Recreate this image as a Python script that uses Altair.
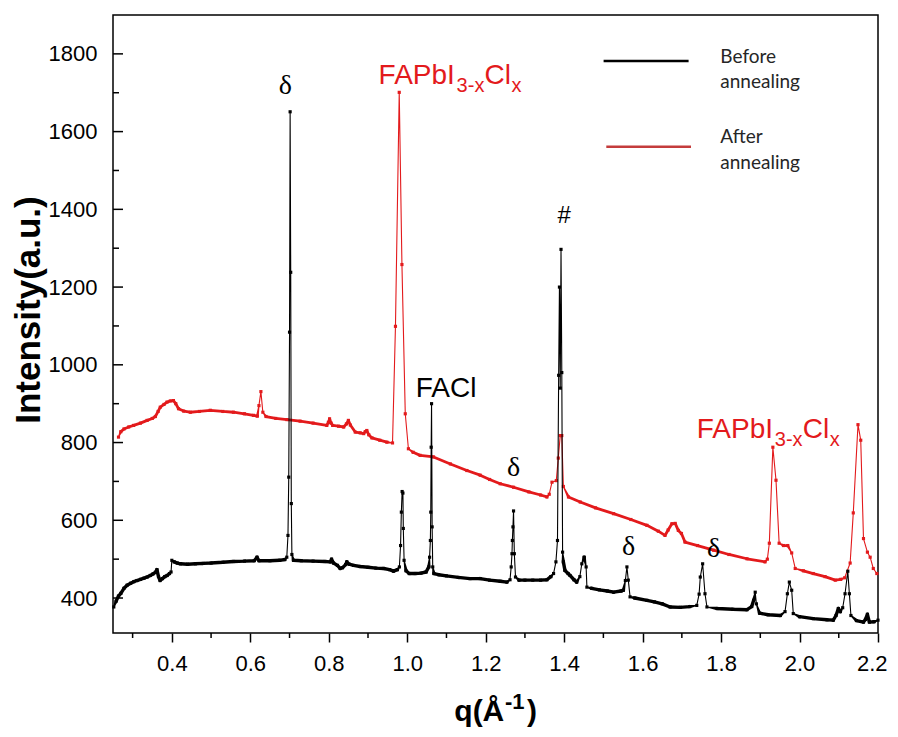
import altair as alt
import pandas as pd

# ---------------- data ----------------
q_before = [0.252, 0.258, 0.264, 0.270, 0.278, 0.286, 0.295, 0.303, 0.311, 0.320,
            0.329, 0.337, 0.345, 0.352, 0.358, 0.362, 0.366, 0.370, 0.376, 0.382,
            0.388, 0.394, 0.398, 0.400, 0.406, 0.414, 0.422, 0.440, 0.460, 0.480,
            0.500, 0.530, 0.557, 0.585, 0.610, 0.617, 0.622, 0.650, 0.675, 0.688,
            0.693, 0.696, 0.698, 0.700, 0.7015, 0.703, 0.7045, 0.706, 0.710, 0.730,
            0.760, 0.790, 0.804, 0.807, 0.812, 0.822, 0.829, 0.835, 0.843, 0.846,
            0.852, 0.863, 0.880, 0.900, 0.920, 0.940, 0.955, 0.965, 0.975, 0.980,
            0.983, 0.985, 0.987, 0.989, 0.990, 0.992, 0.997, 1.005, 1.020, 1.035,
            1.048, 1.055, 1.057, 1.059, 1.060, 1.061, 1.062, 1.0635, 1.065, 1.068,
            1.080, 1.100, 1.130, 1.160, 1.186, 1.210, 1.237, 1.254, 1.262, 1.265,
            1.267, 1.268, 1.2695, 1.271, 1.273, 1.276, 1.285, 1.300, 1.320, 1.340,
            1.356, 1.366, 1.373, 1.379, 1.383, 1.386, 1.388, 1.390, 1.392, 1.394,
            1.396, 1.398, 1.402, 1.410, 1.415, 1.425, 1.432, 1.440, 1.445, 1.451,
            1.456, 1.458, 1.470, 1.490, 1.510, 1.526, 1.545, 1.551, 1.556, 1.560,
            1.5635, 1.568, 1.580, 1.611, 1.630, 1.650, 1.670, 1.696, 1.720, 1.738,
            1.744, 1.747, 1.753, 1.759, 1.764, 1.790, 1.830, 1.866, 1.878, 1.883,
            1.887, 1.890, 1.898, 1.920, 1.951, 1.963, 1.969, 1.974, 1.980, 1.984,
            2.000, 2.035, 2.070, 2.086, 2.093, 2.099, 2.104, 2.110, 2.116, 2.123,
            2.127, 2.131, 2.145, 2.163, 2.168, 2.173, 2.178, 2.190, 2.200]
i_before = [377, 392, 405, 412, 425, 433, 438, 442, 445, 448,
            451, 454, 458, 462, 466, 473, 455, 445, 450, 455,
            458, 463, 467, 497, 493, 490, 488, 487, 488, 489,
            490, 492, 494, 495, 496, 505, 496, 496, 497, 499,
            505, 561, 711, 1084, 1651, 1238, 643, 512, 497, 496,
            495, 494, 493, 500, 490, 484, 476, 478, 486, 493,
            487, 484, 481, 479, 477, 476, 473, 469, 473, 480,
            535, 621, 674, 670, 579, 497, 470, 463, 463, 464,
            467, 480, 505, 548, 621, 788, 900, 583, 480, 463,
            460, 457, 453, 450, 450, 446, 443, 441, 447, 480,
            514, 548, 583, 624, 514, 454, 446, 446, 446, 446,
            447, 455, 463, 493, 548, 973, 1200, 940, 1297, 980,
            518, 493, 471, 463, 458, 447, 441, 455, 488, 505,
            480, 428, 425, 421, 418, 415, 418, 420, 445, 480,
            446, 403, 400, 394, 390, 385, 377, 376, 378, 381,
            410, 454, 488, 411, 377, 373, 371, 370, 378, 394,
            415, 385, 361, 357, 355, 365, 411, 441, 420, 360,
            352, 347, 344, 343, 355, 373, 365, 375, 411, 469,
            411, 355, 342, 338, 345, 358, 338, 339, 343]

q_after = [0.264, 0.270, 0.278, 0.290, 0.3025, 0.320, 0.337, 0.350, 0.358, 0.365,
           0.3705, 0.380, 0.3876, 0.396, 0.404, 0.410, 0.417, 0.430, 0.447, 0.470,
           0.498, 0.530, 0.557, 0.585, 0.608, 0.618, 0.622, 0.627, 0.632, 0.640,
           0.665, 0.6934, 0.727, 0.760, 0.795, 0.799, 0.802, 0.806, 0.810, 0.825,
           0.838, 0.845, 0.850, 0.855, 0.8675, 0.880, 0.889, 0.893, 0.897, 0.902,
           0.910, 0.930, 0.948, 0.9625, 0.970, 0.9796, 0.9865, 0.995, 1.003, 1.015,
           1.033, 1.067, 1.110, 1.152, 1.186, 1.210, 1.237, 1.271, 1.310, 1.340,
           1.356, 1.362, 1.369, 1.380, 1.385, 1.390, 1.394, 1.398, 1.411, 1.441,
           1.480, 1.526, 1.570, 1.611, 1.640, 1.657, 1.665, 1.6746, 1.683, 1.691,
           1.699, 1.708, 1.740, 1.781, 1.820, 1.866, 1.912, 1.918, 1.923, 1.932,
           1.940, 1.948, 1.959, 1.970, 1.980, 1.989, 2.010, 2.035, 2.065, 2.091,
           2.105, 2.115, 2.129, 2.137, 2.149, 2.156, 2.163, 2.173, 2.180, 2.188,
           2.197]
i_after = [814, 828, 835, 840, 844, 850, 857, 862, 867, 880,
           891, 898, 904, 907, 908, 900, 887, 881, 878, 880,
           883, 880, 878, 874, 870, 868, 895, 931, 878, 867,
           862, 859, 855, 850, 844, 852, 861, 850, 844, 842,
           840, 848, 857, 845, 827, 825, 823, 828, 831, 820,
           812, 806, 801, 799, 1099, 1701, 1258, 874, 784, 775,
           767, 763, 745, 728, 716, 705, 694, 685, 673, 665,
           660, 667, 698, 702, 760, 818, 818, 687, 660, 647,
           632, 617, 602, 587, 572, 561, 575, 591, 592, 574,
           566, 544, 535, 523, 512, 501, 493, 500, 541, 788,
           703, 541, 535, 535, 516, 476, 470, 463, 455, 446,
           448, 452, 490, 619, 846, 806, 553, 518, 505, 476,
           463]

x_ticks = [0.4, 0.6, 0.8, 1.0, 1.2, 1.4, 1.6, 1.8, 2.0, 2.2]
x_minor = [0.3, 0.5, 0.7, 0.9, 1.1, 1.3, 1.5, 1.7, 1.9, 2.1]
y_ticks = [400, 600, 800, 1000, 1200, 1400, 1600, 1800]
y_minor = [500, 700, 900, 1100, 1300, 1500, 1700]

legend_labels = [["Before", "annealing"], ["After", "annealing"]]

# annotations anchored at text baseline (q, intensity)
delta_q = [0.689, 1.271, 1.564, 1.781]
delta_i = [1697, 715, 510, 505]
facl_q, facl_i = 1.099, 917
hash_q, hash_i = 1.400, 1365
fap_q = [0.927, 1.738]
fap_i = [1723, 812]

# ---------------- chart ----------------
W, H = 765, 618
RED = "#e31a1c"
FONT = "Liberation Sans"
xs = alt.Scale(domain=[0.25, 2.2], nice=False, zero=False)
ys = alt.Scale(domain=[310, 1900], nice=False, zero=False)

x_axis = alt.Axis(values=x_ticks, format=".1f", labelFontSize=22, labelFont=FONT,
                  labelColor="black", tickSize=9, tickWidth=1.5, tickColor="black",
                  domain=False, grid=False, labelPadding=11, labelFlush=True,
                  labelFlushOffset=9, labelOverlap=False, title=None)
y_axis = alt.Axis(values=y_ticks, format="d", labelFontSize=22, labelFont=FONT,
                  labelColor="black", ticks=False, domain=False, grid=False,
                  labelPadding=16, labelFlush=False, labelOverlap=False, title=None)


def X(field):
    return alt.X(field, scale=xs, axis=x_axis)


def Y(field):
    return alt.Y(field, scale=ys, axis=y_axis)


df_b = pd.DataFrame({"q": q_before, "I": i_before})
df_a = pd.DataFrame({"q": q_after, "I": i_after})


def series(df, color, thick):
    base = alt.Chart(df).encode(x=X("q:Q"), y=Y("I:Q"))
    # dense baseline looks heavy, steep peak flanks are thin (as in the original plot)
    trail = base.transform_window(
        prevI="lag(I)", nextI="lead(I)", sort=[alt.SortField("q")]
    ).transform_calculate(
        w=f"(abs(datum.I - datum.prevI) > 28 || abs(datum.nextI - datum.I) > 28) ? 1.1 : {thick}"
    ).mark_trail(color=color).encode(size=alt.Size("w:Q", scale=None, legend=None))
    pts = base.mark_point(shape="square", filled=True, size=10, color=color, opacity=1)
    return [trail, pts]


layers = []
layers += series(df_a, RED, 2.8)
layers += series(df_b, "black", 3.4)

# inward y ticks
layers.append(alt.Chart(pd.DataFrame({"I": y_ticks})).mark_rule(
    color="black", strokeWidth=1.5).encode(y=Y("I:Q"), x=alt.value(0), x2=alt.value(10)))
layers.append(alt.Chart(pd.DataFrame({"I": y_minor})).mark_rule(
    color="black", strokeWidth=1.5).encode(y=Y("I:Q"), x=alt.value(0), x2=alt.value(6)))
# minor x ticks (outward)
layers.append(alt.Chart(pd.DataFrame({"q": x_minor})).mark_rule(
    color="black", strokeWidth=1.5).encode(x=X("q:Q"), y=alt.value(H), y2=alt.value(H + 5)))

# delta labels
layers.append(alt.Chart(pd.DataFrame({"q": delta_q, "I": delta_i, "t": ["δ"] * 4})).mark_text(
    font="Liberation Serif", fontSize=28, color="black", align="center", baseline="alphabetic").encode(
    x=X("q:Q"), y=Y("I:Q"), text="t:N"))
# FACl
layers.append(alt.Chart(pd.DataFrame({"q": [facl_q], "I": [facl_i], "t": ["FACl"]})).mark_text(
    font=FONT, fontSize=28, color="black", align="center", baseline="alphabetic").encode(
    x=X("q:Q"), y=Y("I:Q"), text="t:N"))
# hash
layers.append(alt.Chart(pd.DataFrame({"q": [hash_q], "I": [hash_i], "t": ["#"]})).mark_text(
    font=FONT, fontSize=24, color="black", align="center", baseline="alphabetic").encode(
    x=X("q:Q"), y=Y("I:Q"), text="t:N"))

# FAPbI3-xClx labels (main text + subscripts)
fap_df = pd.DataFrame({"q": fap_q, "I": fap_i})
parts = [("FAPbI", 0, 28, 0), ("3-x", 78, 20, 8), ("Cl", 106, 28, 0), ("x", 133, 20, 8)]
for txt, dx, fs, dy in parts:
    layers.append(alt.Chart(fap_df).mark_text(
        font=FONT, fontSize=fs, color=RED, align="left", baseline="alphabetic", dx=dx, dy=dy).encode(
        x=X("q:Q"), y=Y("I:Q"), text=alt.value(txt)))

one = pd.DataFrame({"k": [0]})
# legend
layers.append(alt.Chart(one).mark_rule(color="black", strokeWidth=2.5).encode(
    x=alt.value(490.6), x2=alt.value(575.6), y=alt.value(46)))
layers.append(alt.Chart(one).mark_rule(color="#c43c3c", strokeWidth=2.5).encode(
    x=alt.value(493.3), x2=alt.value(578), y=alt.value(131.7)))
leg_pos = [(48.3, 73.3), (128.3, 154)]
for (l1, l2), (y1, y2) in zip(legend_labels, leg_pos):
    for txt, yy in ((l1, y1), (l2, y2)):
        layers.append(alt.Chart(one).mark_text(
            font="Lato", fontSize=19, color="#262626", align="left", baseline="alphabetic").encode(
            x=alt.value(607.3), y=alt.value(yy), text=alt.value(txt)))

# y title
layers.append(alt.Chart(one).mark_text(
    font=FONT, fontSize=35, fontWeight="bold", color="black", angle=270,
    align="center", baseline="middle").encode(
    x=alt.value(-84.5), y=alt.value(295), text=alt.value("Intensity(a.u.)")))
# x title q(Å^-1)
for txt, xx, yy, fs in (("q(Å", 341.3, 706, 30), ("-1", 392, 694, 22), (")", 414, 706, 30)):
    layers.append(alt.Chart(one).mark_text(
        font=FONT, fontSize=fs, fontWeight="bold", color="black",
        align="left", baseline="alphabetic").encode(
        x=alt.value(xx), y=alt.value(yy), text=alt.value(txt)))

chart = alt.layer(*layers).properties(
    width=W, height=H,
    padding={"left": 105, "top": 7, "right": 12, "bottom": 96},
    autosize=alt.AutoSizeParams(type="none"),
    background="white",
).configure_view(stroke="black", strokeWidth=1.5)

chart.save("out.html", embed_options={"renderer": "svg", "actions": False})
